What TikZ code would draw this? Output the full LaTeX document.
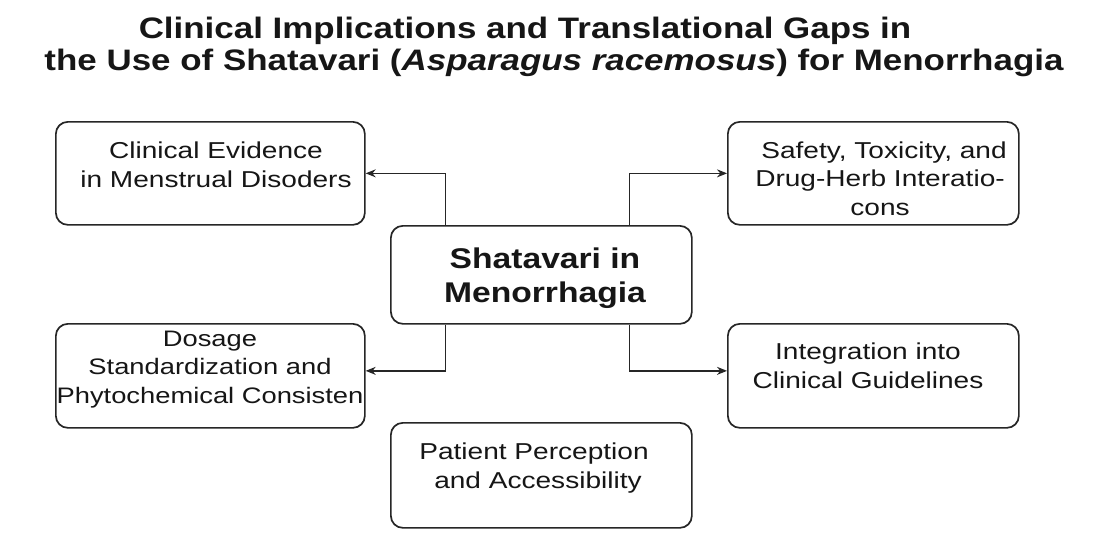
\documentclass[tikz,border=0pt]{standalone}
\usepackage{fontspec}
\setmainfont{Liberation Sans}[FakeStretch=1.18]
\newfontfamily\bodyf{Liberation Sans}[FakeStretch=1.22]
\usetikzlibrary{arrows.meta}
\definecolor{ink}{HTML}{161616}
\definecolor{edge}{HTML}{262626}
\begin{document}
\begin{tikzpicture}[x=1pt,y=-1pt,
  box/.style={draw=edge,line width=1.7pt,rounded corners=12pt,inner sep=0pt,anchor=north west},
  txt/.style={text=ink,align=center,inner sep=0pt,anchor=base,font=\bodyf\fontsize{23}{28.5}\selectfont},
  ctxt/.style={text=ink,align=center,inner sep=0pt,anchor=base,font=\fontsize{28.5}{34}\selectfont\bfseries},
  arr/.style={draw=edge,line width=1.4pt,-{Stealth[length=10pt,width=8pt]}},
  ttl/.style={text=ink,inner sep=0pt,anchor=base,font=\fontsize{29.6}{34}\selectfont\bfseries}]
\useasboundingbox (0,0) rectangle (1104,551);
\fill[white] (0,0) rectangle (1104,551);
% title
\node[ttl] (t1) at (525,39) {Clinical Implications and Translational Gaps in};
\node[ttl] (t2) at (554,71) {the Use of Shatavari (\textit{Asparagus racemosus}) for Menorrhagia};
% boxes
\node[box,minimum width=309pt,minimum height=103pt] (tl) at (55,121) {};
\node[box,minimum width=291pt,minimum height=103pt] (tr) at (727,121) {};
\node[box,minimum width=301pt,minimum height=98pt] (c) at (390,225) {};
\node[box,minimum width=309pt,minimum height=104pt] (ml) at (55,323) {};
\node[box,minimum width=291pt,minimum height=104pt] (mr) at (727,323) {};
\node[box,minimum width=301pt,minimum height=105pt] (bt) at (390,422) {};
% texts
\node[txt] (tlt) at (216,187) {Clinical Evidence\\in Menstrual Disoders};
\node[txt] (trt) at (880,215) {\hspace*{8pt}Safety, Toxicity, and\\Drug-Herb Interatio-\\cons};
\node[ctxt] (ct) at (545,302) {Shatavari in\\Menorrhagia};
\node[txt,font=\bodyf\fontsize{22.4}{28.5}\selectfont] (mlt) at (210,403) {Dosage\\Standardization and\\Phytochemical Consisten};
\node[txt] (mrt) at (868,388) {Integration into\\Clinical Guidelines};
\node[txt] (btt) at (534,488) {Patient Perception\\\hspace*{8pt}and Accessibility};
% connectors
\draw[arr] ([xshift=-96pt]c.north) |- (tl.east);
\draw[arr] ([xshift=88pt]c.north) |- (tr.west);
\draw[arr] ([xshift=-96pt]c.south) |- ([yshift=5pt]ml.east);
\draw[arr] ([xshift=88pt]c.south) |- ([yshift=5pt]mr.west);
\end{tikzpicture}
\end{document}
